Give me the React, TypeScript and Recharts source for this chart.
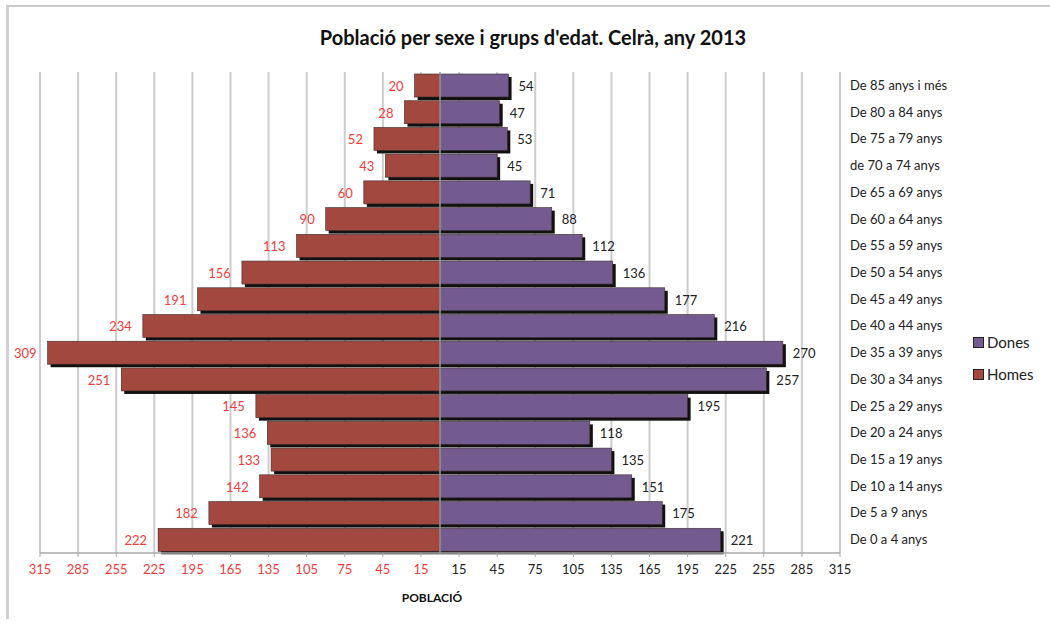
import {
  BarChart,
  Bar,
  XAxis,
  YAxis,
  CartesianGrid,
  ReferenceLine,
  LabelList,
} from "recharts";

const categories = [
  "De 85 anys i més",
  "De 80 a 84 anys",
  "De 75 a 79 anys",
  "de 70 a 74 anys",
  "De 65 a 69 anys",
  "De 60 a 64 anys",
  "De 55 a 59 anys",
  "De 50 a 54 anys",
  "De 45 a 49 anys",
  "De 40 a 44 anys",
  "De 35 a 39 anys",
  "De 30 a 34 anys",
  "De 25 a 29 anys",
  "De 20 a 24 anys",
  "De 15 a 19 anys",
  "De 10 a 14 anys",
  "De 5 a 9 anys",
  "De 0 a 4 anys",
];

const homes = [20, 28, 52, 43, 60, 90, 113, 156, 191, 234, 309, 251, 145, 136, 133, 142, 182, 222];
const dones = [54, 47, 53, 45, 71, 88, 112, 136, 177, 216, 270, 257, 195, 118, 135, 151, 175, 221];

const xTicks = [
  -315, -285, -255, -225, -195, -165, -135, -105, -75, -45, -15,
  15, 45, 75, 105, 135, 165, 195, 225, 255, 285, 315,
];

const HOMES_COLOR = "#a3483f";
const DONES_COLOR = "#735a8f";
const FONT = "Lato, 'Open Sans', sans-serif";

const data = categories.map((name, i) => ({
  name,
  homes: -homes[i],
  dones: dones[i],
}));

// bar with a dark drop shadow, like the old Excel look
const ShadowBar = (props: any) => {
  const { x, y, width, height, fill } = props;
  const left = Math.min(x, x + width);
  const w = Math.abs(width);
  if (!w) return null;
  return (
    <g>
      <rect x={left + 3} y={y + 3} width={w} height={height} fill="#111" />
      <rect
        x={left}
        y={y}
        width={w}
        height={height}
        fill={fill}
        stroke="#3b2a2a"
        strokeWidth={0.6}
      />
    </g>
  );
};

const homesLabel = (props: any) => {
  const { x, y, width, height, value } = props;
  const left = Math.min(x, x + width);
  return (
    <text
      x={left - 11}
      y={y + height / 2 + 2}
      textAnchor="end"
      dominantBaseline="middle"
      fill="#f23c3c"
      fontSize={13}
      fontFamily={FONT}
    >
      {Math.abs(value)}
    </text>
  );
};

const donesLabel = (props: any) => {
  const { x, y, width, height, value } = props;
  const right = Math.max(x, x + width);
  return (
    <text
      x={right + 10}
      y={y + height / 2 + 2}
      textAnchor="start"
      dominantBaseline="middle"
      fill="#222"
      fontSize={13}
      fontFamily={FONT}
    >
      {value}
    </text>
  );
};

const XTick = (props: any) => {
  const { x, y, payload } = props;
  const v = payload.value;
  return (
    <text
      x={x}
      y={y}
      dy="0.71em"
      textAnchor="middle"
      fill={v < 0 ? "#f23c3c" : "#222"}
      fontSize={13}
      fontFamily={FONT}
    >
      {Math.abs(v)}
    </text>
  );
};

const YTick = (props: any) => {
  const { x, y, payload } = props;
  return (
    <text
      x={x}
      y={y}
      dy="0.35em"
      textAnchor="start"
      fill="#222"
      fontSize={13}
      fontFamily={FONT}
    >
      {payload.value}
    </text>
  );
};

const legendItems = [
  { label: "Dones", color: DONES_COLOR },
  { label: "Homes", color: HOMES_COLOR },
];

export default function App() {
  return (
    <div
      style={{
        position: "absolute",
        left: 0,
        top: 0,
        width: 1050,
        height: 623,
        background: "#fff",
        overflow: "hidden",
      }}
    >
      <div
        style={{
          position: "absolute",
          left: 6,
          top: 5,
          right: 0,
          bottom: 4,
          borderTop: "2px solid #cacaca",
          borderLeft: "3px solid #d2d2d2",
        }}
      />
      <div
        style={{
          position: "absolute",
          left: 0,
          top: 25,
          width: 1066,
          textAlign: "center",
          fontFamily: FONT,
          fontWeight: 700,
          fontSize: 20,
          color: "#111",
        }}
      >
        Població per sexe i grups d'edat. Celrà, any 2013
      </div>

      <div style={{ position: "absolute", left: 0, top: 0 }}>
        <BarChart
          width={1050}
          height={623}
          data={data}
          layout="vertical"
          stackOffset="sign"
          barCategoryGap={2}
          margin={{ top: 72, right: 10, bottom: 30, left: 40 }}
        >
          <CartesianGrid
            horizontal={false}
            stroke="#cccccc"
            strokeWidth={2}
          />
          <XAxis
            type="number"
            domain={[-315, 315]}
            ticks={xTicks}
            interval={0}
            height={40}
            tick={<XTick />}
            tickSize={4}
            tickMargin={8}
            tickLine={{ stroke: "#aaa" }}
            axisLine={{ stroke: "#aaa", strokeWidth: 1.5 }}
            label={{
              value: "POBLACIÓ",
              position: "insideBottom",
              offset: -9,
              dx: -8,
              fill: "#111",
              fontSize: 12,
              fontWeight: 700,
              fontFamily: FONT,
            }}
          />
          <YAxis
            type="category"
            dataKey="name"
            orientation="right"
            width={200}
            tick={<YTick />}
            tickSize={6}
            tickMargin={4}
            tickLine={false}
            axisLine={false}
            interval={0}
          />
          <Bar
            dataKey="homes"
            name="Homes"
            stackId="a"
            fill={HOMES_COLOR}
            shape={ShadowBar}
            isAnimationActive={false}
          >
            <LabelList dataKey="homes" content={homesLabel} />
          </Bar>
          <Bar
            dataKey="dones"
            name="Dones"
            stackId="a"
            fill={DONES_COLOR}
            shape={ShadowBar}
            isAnimationActive={false}
          >
            <LabelList dataKey="dones" content={donesLabel} />
          </Bar>
          <ReferenceLine x={0} stroke="#999" strokeWidth={1.5} />
        </BarChart>
      </div>

      <div
        style={{
          position: "absolute",
          left: 973,
          top: 326,
          fontFamily: FONT,
          fontSize: 15,
          color: "#222",
        }}
      >
        {legendItems.map((item) => (
          <div
            key={item.label}
            style={{ display: "flex", alignItems: "center", height: 32 }}
          >
            <span
              style={{
                display: "inline-block",
                width: 9,
                height: 9,
                background: item.color,
                border: "1.5px solid #222",
                marginRight: 3,
              }}
            />
            {item.label}
          </div>
        ))}
      </div>
    </div>
  );
}
